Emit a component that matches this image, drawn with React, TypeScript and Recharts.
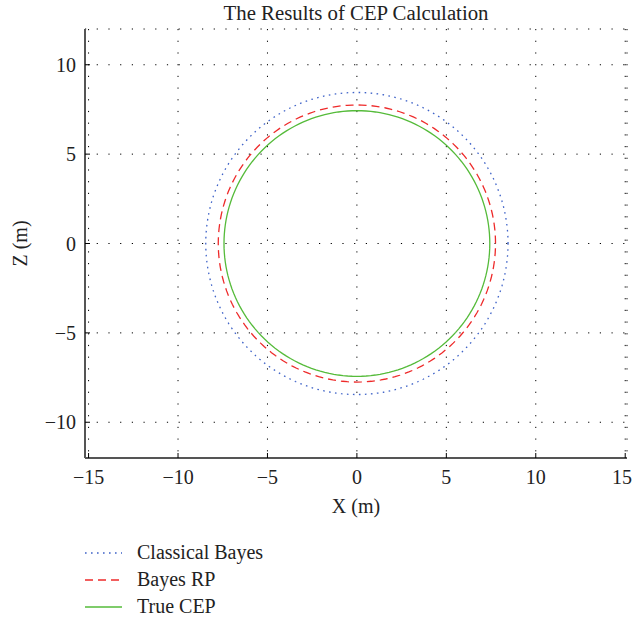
import React from "react";
import { LineChart, Line, XAxis, YAxis, CartesianGrid } from "recharts";

// axis ticks (metres)
const X_TICKS = [-15, -10, -5, 0, 5, 10, 15];
const Z_TICKS = [-10, -5, 0, 5, 10];
const X_DOMAIN = [-15.2, 15.1];
const Z_DOMAIN = [-12, 12];

// CEP circles: centre + radius
const SERIES_NAMES = ["Classical Bayes", "Bayes RP", "True CEP"];
const SERIES_RADII = [8.45, 7.75, 7.43];
const SERIES_CENTER_X = [0, 0, 0];
const SERIES_CENTER_Z = [0, 0, 0];
const SERIES_COLORS = ["#3f63c8", "#ee2a2a", "#55bb3a"];
const SERIES_DASH = ["1.6 4.4", "8 5", undefined];

const FONT = "'Liberation Serif', 'DejaVu Serif', serif";
const W = 633;
const H = 622;

// sample each circle so recharts can draw it as a closed line
const STEPS = 180;
function circlePoints(cx: number, cz: number, r: number) {
  const pts: { x: number; z: number }[] = [];
  for (let i = 0; i <= STEPS; i++) {
    const a = (i / STEPS) * Math.PI * 2;
    pts.push({ x: cx + r * Math.cos(a), z: cz + r * Math.sin(a) });
  }
  return pts;
}
const circles = SERIES_RADII.map((r, i) =>
  circlePoints(SERIES_CENTER_X[i], SERIES_CENTER_Z[i], r)
);

const fmt = (v: number) => String(v).replace("-", "\u2212");
const TICK_LEN = 5;
const textStyle = { fontFamily: FONT, fontSize: 20, fill: "#222" };

function BottomTick(p: any) {
  // keep the last label inside the page
  const tx = Math.min(p.x, W - 11);
  return (
    <g>
      <line x1={p.x} x2={p.x} y1={p.y} y2={p.y - TICK_LEN} stroke="#000" />
      <text x={tx} y={p.y + 19} textAnchor="middle" dominantBaseline="central" {...textStyle}>
        {fmt(p.payload.value)}
      </text>
    </g>
  );
}
function LeftTick(p: any) {
  return (
    <g>
      <line x1={p.x} x2={p.x + TICK_LEN} y1={p.y} y2={p.y} stroke="#000" />
      <text x={p.x - 9} y={p.y} textAnchor="end" dominantBaseline="central" {...textStyle}>
        {fmt(p.payload.value)}
      </text>
    </g>
  );
}
function TopTick(p: any) {
  return <line x1={p.x} x2={p.x} y1={p.y} y2={p.y + TICK_LEN} stroke="#000" />;
}
function RightTick(p: any) {
  return <line x1={p.x} x2={p.x - TICK_LEN} y1={p.y} y2={p.y} stroke="#000" />;
}

function LegendRow({ i }: { i: number }) {
  return (
    <div style={{ display: "flex", alignItems: "center", height: 27 }}>
      <svg width={40} height={10} style={{ marginRight: 13 }}>
        <line x1={1} x2={38} y1={5} y2={5} stroke={SERIES_COLORS[i]} strokeWidth={1.3}
          strokeDasharray={SERIES_DASH[i]} />
      </svg>
      <span style={{ fontFamily: FONT, fontSize: 20, color: "#222" }}>{SERIES_NAMES[i]}</span>
    </div>
  );
}

export default function App() {
  return (
    <div style={{ position: "absolute", left: 0, top: 0, width: W, height: H, background: "#fff" }}>
      <div style={{
        position: "absolute", left: 85, width: 542, top: 1, textAlign: "center",
        fontFamily: FONT, fontSize: 20.8, color: "#222",
      }}>
        The Results of CEP Calculation
      </div>
      <LineChart width={W} height={H} margin={{ top: 29, right: 6, bottom: 134, left: 25 }}>
        <CartesianGrid xAxisId="b" yAxisId="l" stroke="#000" strokeDasharray="1.2 10.5" />
        <XAxis xAxisId="b" type="number" dataKey="x" orientation="bottom" domain={X_DOMAIN}
          ticks={X_TICKS} allowDataOverflow height={30} tickSize={0} tickMargin={0} tickLine={false}
          axisLine={{ stroke: "#555", strokeWidth: 2 }} tick={<BottomTick />} interval={0}
          label={{ value: "X (m)", position: "insideBottom", offset: -25, style: textStyle }} />
        <XAxis xAxisId="t" type="number" dataKey="x" orientation="top" domain={X_DOMAIN}
          ticks={X_TICKS} allowDataOverflow height={0} tickSize={0} tickMargin={0} tickLine={false}
          axisLine={{ stroke: "#000", strokeWidth: 1.3 }} tick={<TopTick />} interval={0} />
        <YAxis yAxisId="l" type="number" dataKey="z" orientation="left" domain={Z_DOMAIN}
          ticks={Z_TICKS} allowDataOverflow width={60} tickSize={0} tickMargin={0} tickLine={false}
          axisLine={{ stroke: "#555", strokeWidth: 2 }} tick={<LeftTick />} interval={0}
          label={{ value: "Z (m)", angle: -90, position: "insideLeft", offset: -5, style: { ...textStyle, textAnchor: "middle" } }} />
        <YAxis yAxisId="r" type="number" dataKey="z" orientation="right" domain={Z_DOMAIN}
          ticks={Z_TICKS} allowDataOverflow width={0} tickSize={0} tickMargin={0} tickLine={false}
          axisLine={{ stroke: "#000", strokeWidth: 1.3 }} tick={<RightTick />} interval={0} />
        {circles.map((pts, i) => (
          <Line key={SERIES_NAMES[i]} data={pts} dataKey="z" xAxisId="b" yAxisId="l"
            type="linear" dot={false} activeDot={false} stroke={SERIES_COLORS[i]}
            strokeWidth={1.3} strokeDasharray={SERIES_DASH[i]} isAnimationActive={false} />
        ))}
      </LineChart>
      <div style={{ position: "absolute", left: 84, top: 539 }}>
        {SERIES_NAMES.map((_, i) => <LegendRow key={i} i={i} />)}
      </div>
    </div>
  );
}
